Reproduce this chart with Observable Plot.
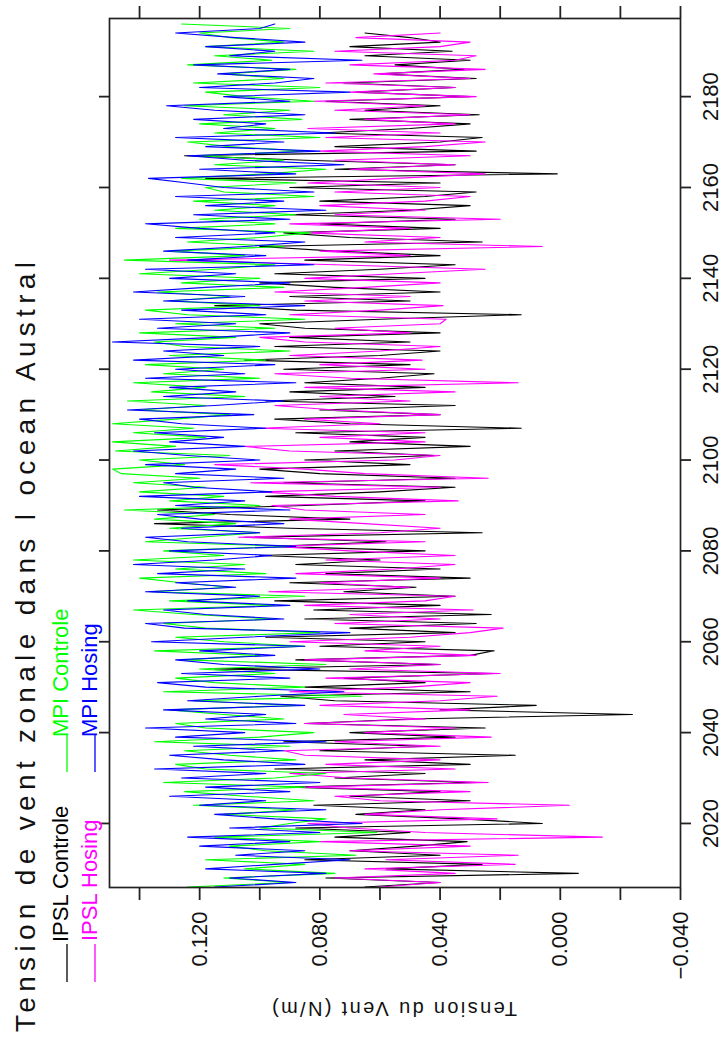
<!DOCTYPE html>
<html>
<head>
<meta charset="utf-8">
<script src="https://cdn.jsdelivr.net/npm/d3@7"></script>
<script src="https://cdn.jsdelivr.net/npm/@observablehq/plot@0.6"></script>
<style>
html, body { margin: 0; padding: 0; background: #fff; overflow: hidden; width: 723px; height: 1042px; }
#rot { position: absolute; left: 0; top: 0; width: 1042px; height: 723px; transform-origin: 0 0; transform: translate(0px, 1042px) rotate(-90deg); }
#rot svg { position: absolute; left: 0; top: 0; overflow: visible; }
</style>
</head>
<body>
<div id="rot"></div>
<script>
// ---------- data ----------
const title = "Tension de vent zonale dans l ocean Austral";
const yLabel = "Tension du Vent (N/m)";
const seriesNames = ["IPSL Controle", "IPSL Hosing", "MPI Controle", "MPI Hosing"];
const seriesColors = ["#000000", "#ff00ff", "#00ff00", "#0000ff"];
const startYears = [2006, 2006, 2006, 2006];

const yearTicks = [2020, 2040, 2060, 2080, 2100, 2120, 2140, 2160, 2180];
const valueTicks = [-0.04, -0.02, 0, 0.02, 0.04, 0.06, 0.08, 0.10, 0.12, 0.14];
const valueLabels = ["−0.040", "", "0.000", "", "0.040", "", "0.080", "", "0.120", ""];

const ipslControle = [
  0.065, 0.040, 0.078, -0.006, 0.058, 0.026, 0.085, 0.040, 0.070, 0.048,
  0.031, 0.075, 0.050, 0.088, 0.006, 0.033, 0.068, 0.045, 0.082, 0.030,
  0.070, 0.040, 0.090, 0.028, 0.075, 0.045, 0.095, 0.030, 0.065, 0.015,
  0.080, 0.045, 0.092, 0.035, 0.070, 0.025, 0.085, 0.050, -0.024, 0.040,
  0.008, 0.075, 0.093, 0.030, 0.085, 0.045, 0.072, 0.022, 0.115, 0.040,
  0.088, 0.030, 0.022, 0.080, 0.045, 0.098, 0.035, 0.070, 0.028, 0.085,
  0.023, 0.082, 0.040, 0.095, 0.035, 0.072, 0.048, 0.090, 0.030, 0.078,
  0.040, 0.088, 0.060, 0.100, 0.045, 0.095, 0.058, 0.105, 0.026, 0.090,
  0.135, 0.070, 0.110, 0.134, 0.085, 0.045, 0.098, 0.060, 0.035, 0.092,
  0.035, 0.080, 0.100, 0.050, 0.085, 0.042, 0.075, 0.030, 0.070, 0.045,
  0.088, 0.013, 0.070, 0.095, 0.040, 0.080, 0.035, 0.098, 0.055, 0.090,
  0.045, 0.085, 0.060, 0.042, 0.092, 0.050, 0.105, 0.060, 0.040, 0.095,
  0.050, 0.090, 0.040, 0.085, 0.100, 0.060, 0.013, 0.088, 0.115, 0.050,
  0.090, 0.040, 0.075, 0.100, 0.045, 0.095, 0.060, 0.035, 0.085, 0.040,
  0.075, 0.100, 0.026, 0.070, 0.092, 0.040, 0.080, 0.035, 0.090, 0.050,
  0.030, 0.080, 0.045, 0.028, 0.090, 0.040, 0.118, 0.001, 0.075, 0.035,
  0.085, 0.125, 0.028, 0.075, 0.040, 0.026, 0.080, 0.050, 0.030, 0.070,
  0.027, 0.065, 0.040, 0.078, 0.030, 0.068, 0.035, 0.072, 0.028, 0.060,
  0.032, 0.055, 0.030, 0.065, 0.036, 0.070, 0.040, 0.050, 0.065
];

const ipslHosing = [
  0.060, 0.040, 0.075, 0.035, 0.065, 0.015, 0.058, 0.014, 0.070, 0.030,
  0.080, -0.014, 0.045, 0.070, 0.084, 0.021, 0.065, 0.040, -0.003, 0.060,
  0.075, 0.030, 0.085, 0.024, 0.070, 0.090, 0.035, 0.078, 0.040, 0.085,
  0.092, 0.040, 0.075, 0.023, 0.065, 0.035, 0.085, 0.045, 0.072, 0.030,
  0.080, 0.040, 0.021, 0.090, 0.050, 0.030, 0.078, 0.020, 0.070, 0.040,
  0.085, 0.028, 0.065, 0.040, 0.090, 0.050, 0.030, 0.019, 0.075, 0.040,
  0.070, 0.029, 0.085, 0.045, 0.035, 0.097, 0.050, 0.080, 0.040, 0.088,
  0.055, 0.035, 0.078, 0.035, 0.070, 0.095, 0.045, 0.107, 0.060, 0.040,
  0.065, 0.090, 0.045, 0.085, 0.096, 0.034, 0.075, 0.100, 0.040, 0.103,
  0.024, 0.065, 0.085, 0.115, 0.055, 0.040, 0.090, 0.105, 0.045, 0.080,
  0.045, 0.100, 0.060, 0.085, 0.040, 0.075, 0.095, 0.050, 0.080, 0.035,
  0.085, 0.014, 0.070, 0.095, 0.045, 0.080, 0.046, 0.090, 0.060, 0.040,
  0.085, 0.100, 0.050, 0.075, 0.040, 0.038, 0.090, 0.060, 0.039, 0.085,
  0.050, 0.095, 0.065, 0.040, 0.085, 0.055, 0.025, 0.075, 0.130, 0.050,
  0.080, 0.006, 0.065, 0.040, 0.085, 0.050, 0.090, 0.020, 0.075, 0.045,
  0.080, 0.045, 0.030, 0.075, 0.040, 0.084, 0.055, 0.025, 0.070, 0.035,
  0.075, 0.030, 0.080, 0.045, 0.025, 0.078, 0.040, 0.084, 0.035, 0.065,
  0.030, 0.075, 0.045, 0.082, 0.028, 0.070, 0.035, 0.078, 0.030, 0.062,
  0.025, 0.070, 0.035, 0.028, 0.075, 0.040, 0.030, 0.068, 0.040
];

const mpiControle = [
  0.124, 0.090, 0.112, 0.075, 0.105, 0.085, 0.118, 0.068, 0.098, 0.110,
  0.080, 0.115, 0.061, 0.100, 0.090, 0.078, 0.112, 0.088, 0.122, 0.082,
  0.105, 0.125, 0.085, 0.132, 0.095, 0.078, 0.118, 0.128, 0.088, 0.110,
  0.125, 0.090, 0.135, 0.100, 0.082, 0.118, 0.128, 0.092, 0.112, 0.130,
  0.088, 0.122, 0.066, 0.132, 0.085, 0.115, 0.128, 0.095, 0.120, 0.078,
  0.125, 0.100, 0.135, 0.085, 0.112, 0.128, 0.080, 0.118, 0.132, 0.095,
  0.122, 0.142, 0.095, 0.130, 0.085, 0.136, 0.110, 0.126, 0.140, 0.098,
  0.128, 0.105, 0.142, 0.112, 0.132, 0.090, 0.138, 0.120, 0.100, 0.130,
  0.108, 0.135, 0.115, 0.145, 0.100, 0.130, 0.112, 0.140, 0.118, 0.142,
  0.120, 0.146, 0.149, 0.125, 0.140, 0.110, 0.148, 0.128, 0.149, 0.118,
  0.142, 0.122, 0.149, 0.128, 0.110, 0.140, 0.118, 0.144, 0.105, 0.136,
  0.118, 0.142, 0.100, 0.132, 0.112, 0.138, 0.098, 0.130, 0.090, 0.125,
  0.135, 0.108, 0.140, 0.095, 0.128, 0.085, 0.124, 0.138, 0.100, 0.130,
  0.110, 0.134, 0.092, 0.126, 0.100, 0.140, 0.115, 0.095, 0.145, 0.105,
  0.130, 0.092, 0.124, 0.100, 0.083, 0.128, 0.095, 0.120, 0.088, 0.115,
  0.095, 0.122, 0.082, 0.112, 0.118, 0.088, 0.126, 0.098, 0.078, 0.115,
  0.092, 0.120, 0.085, 0.110, 0.124, 0.080, 0.115, 0.095, 0.120, 0.086,
  0.112, 0.090, 0.125, 0.082, 0.105, 0.118, 0.080, 0.122, 0.092, 0.112,
  0.088, 0.124, 0.096, 0.115, 0.082, 0.118, 0.092, 0.110, 0.120, 0.090,
  0.126
];

const mpiHosing = [
  0.115, 0.088, 0.110, 0.078, 0.118, 0.095, 0.070, 0.108, 0.085, 0.120,
  0.090, 0.124, 0.080, 0.110, 0.066, 0.095, 0.115, 0.078, 0.120, 0.098,
  0.130, 0.090, 0.118, 0.080, 0.126, 0.098, 0.135, 0.085, 0.112, 0.130,
  0.092, 0.122, 0.078, 0.128, 0.105, 0.138, 0.088, 0.118, 0.098, 0.132,
  0.085, 0.124, 0.100, 0.072, 0.118, 0.134, 0.090, 0.126, 0.080, 0.112,
  0.128, 0.095, 0.120, 0.085, 0.136, 0.105, 0.070, 0.125, 0.138, 0.092,
  0.118, 0.132, 0.090, 0.124, 0.100, 0.138, 0.108, 0.128, 0.088, 0.134,
  0.105, 0.142, 0.115, 0.096, 0.130, 0.088, 0.124, 0.138, 0.100, 0.126,
  0.092, 0.120, 0.134, 0.090, 0.128, 0.105, 0.140, 0.096, 0.122, 0.132,
  0.092, 0.128, 0.108, 0.138, 0.100, 0.124, 0.142, 0.105, 0.130, 0.112,
  0.135, 0.098, 0.126, 0.140, 0.102, 0.144, 0.115, 0.092, 0.132, 0.108,
  0.130, 0.088, 0.138, 0.105, 0.128, 0.095, 0.142, 0.112, 0.132, 0.100,
  0.149, 0.115, 0.090, 0.134, 0.108, 0.140, 0.098, 0.126, 0.085, 0.132,
  0.105, 0.142, 0.118, 0.090, 0.130, 0.108, 0.138, 0.082, 0.124, 0.098,
  0.132, 0.105, 0.085, 0.128, 0.095, 0.120, 0.138, 0.090, 0.122, 0.078,
  0.118, 0.092, 0.128, 0.082, 0.112, 0.124, 0.137, 0.088, 0.120, 0.072,
  0.105, 0.124, 0.080, 0.118, 0.092, 0.128, 0.075, 0.112, 0.098, 0.122,
  0.085, 0.115, 0.131, 0.090, 0.112, 0.070, 0.120, 0.095, 0.082, 0.114,
  0.090, 0.122, 0.066, 0.110, 0.095, 0.118, 0.085, 0.108, 0.128, 0.100,
  0.095
];

const seriesValues = [ipslControle, ipslHosing, mpiControle, mpiHosing];
// drawing order (bottom to top)
const drawOrder = [0, 1, 2, 3];

// ---------- build table ----------
const rows = [];
drawOrder.forEach(k => {
  seriesValues[k].forEach((v, i) => rows.push({ year: startYears[k] + i, value: v, name: seriesNames[k] }));
});

const font = "'Liberation Sans', Arial, Helvetica, sans-serif";
const labelOf = new Map(valueTicks.map((t, i) => [t, valueLabels[i]]));

const chart = Plot.plot({
  width: 1042,
  height: 723,
  marginLeft: 154,
  marginRight: 19,
  marginTop: 109,
  marginBottom: 43,
  style: { fontFamily: font, fontSize: "22px", color: "#111", background: "transparent", overflow: "visible" },
  x: { domain: [2005.9, 2197.2] },
  y: { domain: [-0.04, 0.15] },
  color: { domain: seriesNames, range: seriesColors },
  marks: [
    Plot.line(rows, { x: "year", y: "value", z: "name", stroke: "name", strokeWidth: 1.1 }),
    Plot.frame({ stroke: "#222", strokeWidth: 1.7 }),
    Plot.axisY({ anchor: "left", ticks: valueTicks, tickSize: 12, tickPadding: 12, strokeWidth: 1.8, stroke: "#222",
                 tickFormat: d => labelOf.get(d) ?? "", label: null }),
    Plot.axisY({ anchor: "right", ticks: valueTicks, tickSize: 12, strokeWidth: 1.8, stroke: "#222",
                 tickFormat: () => "", label: null }),
    Plot.axisX({ anchor: "bottom", ticks: yearTicks, tickSize: 11, tickPadding: 11, strokeWidth: 1.8, stroke: "#222",
                 tickFormat: d => String(d), label: null }),
    Plot.axisX({ anchor: "top", ticks: yearTicks, tickSize: 11, strokeWidth: 1.8, stroke: "#222",
                 tickFormat: () => "", label: null })
  ]
});

document.getElementById("rot").appendChild(chart);

// ---------- title, legend and value-axis title (landscape coordinates) ----------
const svg = d3.select(chart);
const g = svg.append("g").attr("font-family", font).attr("text-anchor", "start");

g.append("text")
  .attr("x", 10).attr("y", 35)
  .attr("font-size", 28)
  .attr("fill", "#111")
  .attr("text-anchor", "start")
  .attr("textLength", 770)
  .attr("lengthAdjust", "spacing")
  .text(title);

// legend: column 1 = IPSL, column 2 = MPI; row 1 = Controle, row 2 = Hosing
const legendPos = [
  { lx: 60, tx: 100, ly: 67, ty: 68 },   // IPSL Controle
  { lx: 60, tx: 101, ly: 95, ty: 97 },   // IPSL Hosing
  { lx: 270, tx: 305, ly: 67, ty: 68 },  // MPI Controle
  { lx: 270, tx: 305, ly: 95, ty: 97 }   // MPI Hosing
];
seriesNames.forEach((n, i) => {
  const p = legendPos[i];
  g.append("line")
    .attr("x1", p.lx).attr("x2", p.lx + 38)
    .attr("y1", p.ly).attr("y2", p.ly)
    .attr("stroke", seriesColors[i]).attr("stroke-width", 1.3);
  g.append("text")
    .attr("x", p.tx).attr("y", p.ty)
    .attr("font-size", 22)
    .attr("text-anchor", "start")
    .attr("fill", seriesColors[i])
    .text(n);
});

g.append("text")
  .attr("transform", "translate(40,394.5) rotate(-90)")
  .attr("text-anchor", "middle")
  .attr("font-size", 20)
  .attr("fill", "#111")
  .attr("textLength", 245)
  .attr("lengthAdjust", "spacing")
  .text(yLabel);
</script>
</body>
</html>
